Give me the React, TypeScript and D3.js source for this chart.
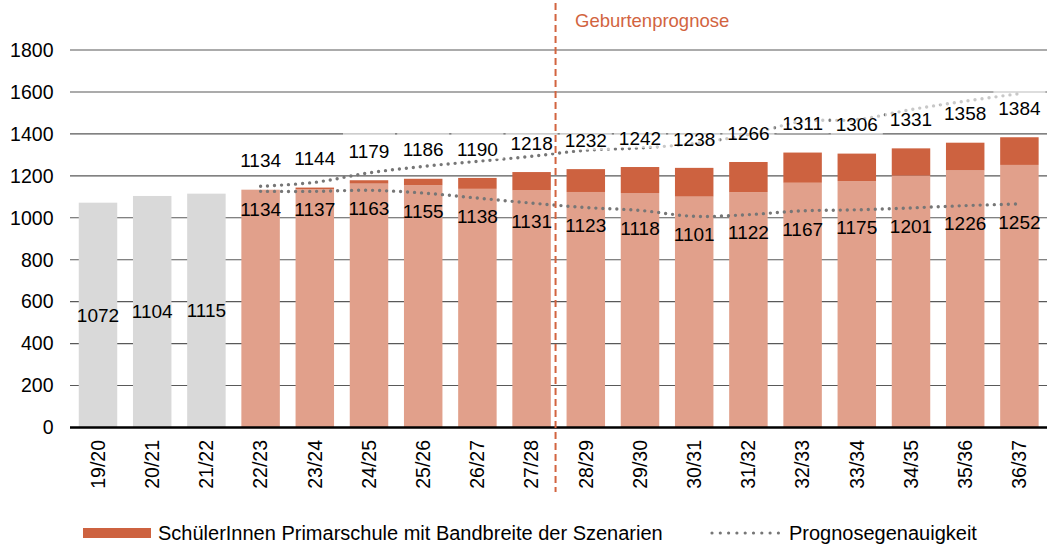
import React from "react";
import * as d3 from "d3";

const categories = ["19/20","20/21","21/22","22/23","23/24","24/25","25/26","26/27","27/28","28/29","29/30","30/31","31/32","32/33","33/34","34/35","35/36","36/37"];
const histCategories = ["19/20","20/21","21/22"];
const histValues = [1072, 1104, 1115];
const progCategories = ["22/23","23/24","24/25","25/26","26/27","27/28","28/29","29/30","30/31","31/32","32/33","33/34","34/35","35/36","36/37"];
const lowerScenario = [1134,1137,1163,1155,1138,1131,1123,1118,1101,1122,1167,1175,1201,1226,1252];
const upperScenario = [1134,1144,1179,1186,1190,1218,1232,1242,1238,1266,1311,1306,1331,1358,1384];
const upperAccuracy = [1150,1169,1214,1245,1269,1293,1322,1333,1354,1397,1460,1468,1516,1556,1592];
const lowerAccuracy = [1126,1126,1131,1118,1094,1070,1049,1035,1007,1015,1033,1038,1047,1058,1066];
const yTicks = [0,200,400,600,800,1000,1200,1400,1600,1800];
const forecastStart = "28/29";
const forecastLabel = "Geburtenprognose";
const legendBars = "SchülerInnen Primarschule mit Bandbreite der Szenarien";
const legendLine = "Prognosegenauigkeit";

const W = 1047, H = 546;
const FONT = "Liberation Sans, Arial, sans-serif";
const GREY = "#d9d9d9", SALMON = "#e1a08b", DARK = "#cd6240", DOT = "#767676", ORANGE = "#d2643f";

export default function App() {
  const x = d3.scaleBand<string>().domain(categories).range([70.9, 1046.5]).paddingInner(0.29).paddingOuter(0.145);
  const y = d3.scaleLinear().domain([0, 1800]).range([427.5, 50]);
  const bw = x.bandwidth();
  const cx = (c: string) => (x(c) as number) + bw / 2;

  const line = d3.line<number>()
    .x((_, i) => cx(progCategories[i]))
    .y((d) => y(d))
    .curve(d3.curveCatmullRom.alpha(0.5));

  const fsIdx = categories.indexOf(forecastStart);
  const prevCat = categories[fsIdx - 1];
  const dashX = (x(prevCat) as number) + bw + (x.step() - bw) * 0.3;

  return (
    <svg width={W} height={H} style={{ position: "absolute", left: 0, top: 0, background: "#fff" }} fontFamily={FONT}>
      {yTicks.filter((t) => t > 0).map((t) => (
        <line key={t} x1={70} x2={1047} y1={y(t)} y2={y(t)} stroke="#595959" strokeWidth={1.1} />
      ))}
      {yTicks.map((t) => (
        <text key={"yl" + t} x={53.5} y={y(t)} dy="0.35em" textAnchor="end" fontSize={19.5} fill="#000">{t}</text>
      ))}
      {histCategories.map((c, i) => (
        <rect key={c} x={x(c)} y={y(histValues[i])} width={bw} height={y(0) - y(histValues[i])} fill={GREY} />
      ))}
      {progCategories.map((c, i) => (
        <g key={c}>
          <rect x={x(c)} y={y(lowerScenario[i])} width={bw} height={y(0) - y(lowerScenario[i])} fill={SALMON} />
          {upperScenario[i] > lowerScenario[i] && (
            <rect x={x(c)} y={y(upperScenario[i])} width={bw} height={y(lowerScenario[i]) - y(upperScenario[i])} fill={DARK} />
          )}
        </g>
      ))}
      <line x1={70} x2={1047} y1={y(0)} y2={y(0)} stroke="#000" strokeWidth={2.6} />
      <path d={line(upperAccuracy) || ""} fill="none" stroke={DOT} strokeWidth={3.4} strokeLinecap="round" strokeDasharray="0 7" />
      <path d={line(lowerAccuracy) || ""} fill="none" stroke={DOT} strokeWidth={3.4} strokeLinecap="round" strokeDasharray="0 7" />
      {progCategories.map((c, i) => {
        const cy = y(upperScenario[i]) - 29;
        return <rect key={"bx" + c} x={cx(c) - 26} y={cy - 19} width={52} height={29} fill="#fff" opacity={0.6} />;
      })}
      <line x1={dashX} x2={dashX} y1={3} y2={492} stroke={ORANGE} strokeWidth={2} strokeDasharray="7 4" />
      <text x={575} y={26.5} fontSize={18.5} fill={ORANGE}>{forecastLabel}</text>
      {histCategories.map((c, i) => (
        <text key={"hl" + c} x={cx(c)} y={(y(histValues[i]) + y(0)) / 2} dy="0.35em" textAnchor="middle" fontSize={19} fill="#000">{histValues[i]}</text>
      ))}
      {progCategories.map((c, i) => (
        <text key={"ul" + c} x={cx(c)} y={y(upperScenario[i]) - 29} dy="0.35em" textAnchor="middle" fontSize={19} fill="#000">{upperScenario[i]}</text>
      ))}
      {progCategories.map((c, i) => (
        <text key={"ll" + c} x={cx(c)} y={y(lowerAccuracy[i]) + 18} dy="0.35em" textAnchor="middle" fontSize={19} fill="#000">{lowerScenario[i]}</text>
      ))}
      {categories.map((c) => (
        <text key={"xl" + c} transform={`translate(${cx(c)},440) rotate(-90)`} dy="0.35em" textAnchor="end" fontSize={19.5} fill="#000">{c}</text>
      ))}
      <rect x={83} y={528} width={68} height={10} fill={DARK} />
      <text x={158} y={533} dy="0.35em" fontSize={20} fill="#000">{legendBars}</text>
      <line x1={712} x2={779} y1={533} y2={533} stroke={DOT} strokeWidth={3.2} strokeLinecap="round" strokeDasharray="0 8.3" />
      <text x={789} y={533} dy="0.35em" fontSize={20} fill="#000">{legendLine}</text>
    </svg>
  );
}
